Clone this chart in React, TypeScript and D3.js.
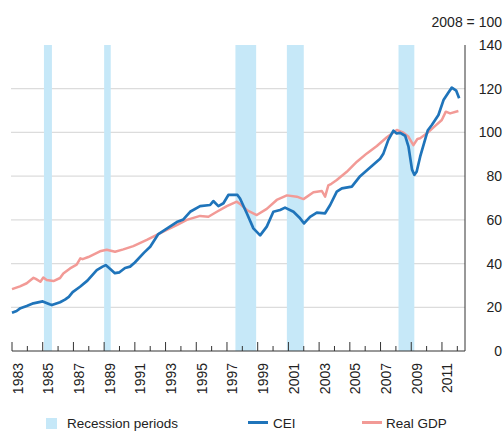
import React, { useEffect, useRef } from "react";
import * as d3 from "d3";

// Coincident economic index vs real GDP, 2008 = 100 (decimal year, value)
const ceiData: [number, number][] = [
  [1983.0, 17.5], [1983.3, 18.3], [1983.55, 19.6], [1983.96, 20.6], [1984.39, 21.8],
  [1985.0, 22.7], [1985.45, 21.4], [1985.6, 21.0], [1986.13, 22.3], [1986.45, 23.5],
  [1986.7, 24.8], [1986.95, 26.9], [1987.43, 29.4], [1987.91, 32.2], [1988.52, 37.0],
  [1988.9, 38.6], [1989.1, 39.3], [1989.38, 37.6], [1989.7, 35.6], [1990.0, 36.0],
  [1990.36, 38.0], [1990.69, 38.6], [1991.0, 40.5], [1991.6, 45.0], [1992.0, 47.7],
  [1992.53, 53.5], [1993.08, 56.0], [1993.73, 59.0], [1994.16, 60.2], [1994.6, 63.7],
  [1995.25, 66.3], [1995.9, 66.8], [1996.11, 68.6], [1996.44, 66.3], [1996.77, 67.6],
  [1997.09, 71.4], [1997.68, 71.4], [1997.85, 69.8], [1998.29, 63.0], [1998.72, 56.1],
  [1999.16, 52.9], [1999.59, 56.9], [2000.02, 63.7], [2000.46, 64.5], [2000.78, 65.6],
  [2001.33, 63.7], [2001.76, 60.7], [2002.02, 58.4], [2002.41, 61.4], [2002.85, 63.3],
  [2003.39, 63.0], [2003.72, 66.8], [2004.15, 72.9], [2004.48, 74.4], [2005.13, 75.2],
  [2005.67, 80.0], [2006.32, 84.0], [2006.97, 88.0], [2007.19, 90.4], [2007.5, 96.5],
  [2007.84, 100.8], [2008.05, 99.5], [2008.28, 99.8], [2008.6, 98.5], [2008.82, 93.5],
  [2009.05, 83.0], [2009.2, 80.6], [2009.35, 82.0], [2009.58, 88.9], [2010.08, 101.0],
  [2010.34, 103.4], [2010.77, 108.0], [2011.1, 114.8], [2011.4, 118.0], [2011.64, 120.5],
  [2011.93, 119.1], [2012.12, 115.6],
];

const gdpData: [number, number][] = [
  [1983.0, 28.3], [1983.52, 29.6], [1983.96, 31.0], [1984.4, 33.5], [1984.55, 33.0],
  [1984.85, 31.7], [1985.04, 33.6], [1985.26, 32.5], [1985.7, 32.0], [1986.13, 33.4],
  [1986.34, 35.5], [1986.78, 37.8], [1987.21, 39.5], [1987.45, 42.4], [1987.6, 42.0],
  [1987.97, 43.0], [1988.73, 45.6], [1989.17, 46.3], [1989.71, 45.4], [1990.25, 46.5],
  [1990.9, 48.0], [1991.78, 50.8], [1992.43, 53.1], [1993.08, 55.4], [1993.73, 57.6],
  [1994.38, 60.0], [1995.25, 61.8], [1995.79, 61.4], [1996.34, 63.7], [1996.99, 66.3],
  [1997.64, 68.3], [1997.9, 67.0], [1998.29, 64.5], [1998.94, 62.2], [1999.59, 65.0],
  [2000.24, 69.1], [2000.9, 71.2], [2001.55, 70.6], [2001.98, 69.5], [2002.63, 72.6],
  [2003.18, 73.2], [2003.39, 70.6], [2003.6, 75.8], [2003.8, 76.5], [2004.15, 78.2],
  [2004.8, 82.0], [2005.46, 86.6], [2006.11, 90.4], [2006.76, 93.8], [2007.41, 97.8],
  [2008.06, 101.1], [2008.49, 99.9], [2008.82, 98.0], [2009.14, 94.2], [2009.4, 97.0],
  [2009.58, 97.3], [2010.02, 99.6], [2010.56, 103.0], [2010.99, 105.7], [2011.25, 109.5],
  [2011.53, 108.7], [2012.07, 109.8],
];

const recessions: [number, number][] = [
  [1985.08, 1985.6],
  [1989.0, 1989.43],
  [1997.55, 1998.9],
  [2000.9, 2002.0],
  [2008.17, 2009.2],
];

const yearTicks = d3.range(1983, 2013);
const yTicks = [0, 20, 40, 60, 80, 100, 120, 140];
const gridTicks = [20, 40, 60, 80, 100, 120];

const BLUE = "#1f74ba";
const PINK = "#f29a96";
const BAND = "#c6e8f8";
const FONT = "'Liberation Sans', Arial, Helvetica, sans-serif";

export default function App() {
  const ref = useRef<SVGSVGElement>(null);

  useEffect(() => {
    const svg = d3.select(ref.current);
    svg.selectAll("*").remove();

    const x = d3.scaleLinear().domain([1983, 2012.5]).range([12, 465]);
    const y = d3.scaleLinear().domain([0, 140]).range([351, 45]);

    // gridlines
    svg.append("g")
      .selectAll("line")
      .data(gridTicks)
      .join("line")
      .attr("x1", 11)
      .attr("x2", x(2012.5))
      .attr("y1", d => y(d))
      .attr("y2", d => y(d))
      .attr("stroke", "#dcdcdc")
      .attr("stroke-width", 1.3);

    // recession shading
    svg.append("g")
      .selectAll("rect")
      .data(recessions)
      .join("rect")
      .attr("x", d => x(d[0]))
      .attr("width", d => x(d[1]) - x(d[0]))
      .attr("y", y(140))
      .attr("height", y(0) - y(140))
      .attr("fill", BAND);

    const line = d3.line<[number, number]>()
      .x(d => x(d[0]))
      .y(d => y(d[1]));

    svg.append("path")
      .datum(gdpData)
      .attr("d", line)
      .attr("fill", "none")
      .attr("stroke", PINK)
      .attr("stroke-width", 2.5)
      .attr("stroke-linejoin", "round");

    svg.append("path")
      .datum(ceiData)
      .attr("d", line)
      .attr("fill", "none")
      .attr("stroke", BLUE)
      .attr("stroke-width", 2.7)
      .attr("stroke-linejoin", "round");

    // x axis with inward ticks, long on labelled years
    const axis = svg.append("g").attr("stroke", "#333").attr("stroke-width", 1);
    axis.append("line")
      .attr("x1", x(1983)).attr("x2", x(2012.5))
      .attr("y1", y(0)).attr("y2", y(0));
    axis.selectAll("line.tick")
      .data(yearTicks)
      .join("line")
      .attr("class", "tick")
      .attr("x1", d => x(d)).attr("x2", d => x(d))
      .attr("y1", y(0))
      .attr("y2", d => y(0) - (d % 2 === 1 ? 9 : 5));
    axis.append("line")
      .attr("x1", x(2012.5)).attr("x2", x(2012.5))
      .attr("y1", y(140)).attr("y2", y(0));

    svg.append("g")
      .selectAll("text")
      .data(yearTicks.filter(d => d % 2 === 1))
      .join("text")
      .attr("transform", d => `translate(${x(d) + 5.5},363) rotate(-90)`)
      .attr("text-anchor", "end")
      .attr("dominant-baseline", "central")
      .attr("font-size", 14)
      .attr("fill", "#222")
      .text(d => d);

    svg.append("g")
      .selectAll("text")
      .data(yTicks)
      .join("text")
      .attr("x", 502)
      .attr("y", d => y(d))
      .attr("text-anchor", "end")
      .attr("dominant-baseline", "central")
      .attr("font-size", 14)
      .attr("fill", "#222")
      .text(d => d);

    svg.append("text")
      .attr("x", 502)
      .attr("y", 26.5)
      .attr("text-anchor", "end")
      .attr("font-size", 14)
      .attr("fill", "#222")
      .text("2008 = 100");

    // legend (kept just inside the bottom edge)
    const legend = svg.append("g").attr("font-size", 13.5).attr("fill", "#222");
    legend.append("rect").attr("x", 46).attr("y", 418).attr("width", 11).attr("height", 11).attr("fill", BAND);
    legend.append("text").attr("x", 67).attr("y", 427.5).text("Recession periods");
    legend.append("line").attr("x1", 248).attr("x2", 268).attr("y1", 422.5).attr("y2", 422.5)
      .attr("stroke", BLUE).attr("stroke-width", 3);
    legend.append("text").attr("x", 273).attr("y", 427.5).text("CEI");
    legend.append("line").attr("x1", 362).attr("x2", 382).attr("y1", 422.5).attr("y2", 422.5)
      .attr("stroke", PINK).attr("stroke-width", 3);
    legend.append("text").attr("x", 386).attr("y", 427.5).text("Real GDP");
  }, []);

  return (
    <svg
      ref={ref}
      width={503}
      height={431}
      style={{ position: "absolute", left: 0, top: 0, background: "#fff", fontFamily: FONT }}
    />
  );
}
